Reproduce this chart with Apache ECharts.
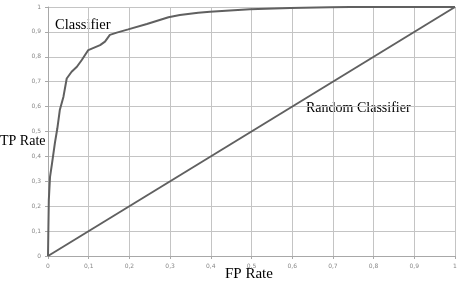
<!DOCTYPE html>
<html>
<head>
<meta charset="utf-8">
<script src="https://cdn.jsdelivr.net/npm/echarts@6/dist/echarts.min.js"></script>
<style>html,body{margin:0;padding:0;background:#fff;}#c{width:458px;height:283px;}</style>
</head>
<body>
<div id="c"></div>
<script>
var rocFpr = [0, 0.001, 0.002, 0.005, 0.010, 0.017, 0.023, 0.029, 0.038, 0.046, 0.058, 0.071, 0.083, 0.087, 0.099, 0.128, 0.140, 0.152, 0.169, 0.197, 0.243, 0.296, 0.324, 0.369, 0.398, 0.496, 0.595, 0.693, 0.742, 1];
var rocTpr = [0, 0.118, 0.225, 0.318, 0.373, 0.454, 0.513, 0.586, 0.640, 0.713, 0.740, 0.760, 0.787, 0.794, 0.827, 0.847, 0.861, 0.888, 0.897, 0.910, 0.932, 0.959, 0.968, 0.977, 0.981, 0.991, 0.996, 0.999, 1, 1];
var randFpr = [0, 1];
var randTpr = [0, 1];
var tickValues = [0, 0.1, 0.2, 0.3, 0.4, 0.5, 0.6, 0.7, 0.8, 0.9, 1];
var tickLabels = ['0', '0,1', '0,2', '0,3', '0,4', '0,5', '0,6', '0,7', '0,8', '0,9', '1'];
var xAxisName = 'FP Rate';
var yAxisName = 'TP Rate';

function fmt(v) {
  for (var i = 0; i < tickValues.length; i++) {
    if (Math.abs(tickValues[i] - v) < 1e-6) return tickLabels[i];
  }
  return '';
}
function pairs(a, b) { return a.map(function (x, i) { return [x, b[i]]; }); }

var axisCommon = {
  type: 'value', min: 0, max: 1, interval: 0.1,
  axisLine: { show: true, lineStyle: { color: '#a8a8a8', width: 1 } },
  axisTick: { show: true, length: 3, lineStyle: { color: '#a8a8a8' } },
  splitLine: { show: true, lineStyle: { color: '#c4c4c4', width: 1 } },
  axisLabel: { formatter: fmt, fontSize: 6, color: '#888', fontFamily: 'DejaVu Sans', margin: 7 }
};

var chart = echarts.init(document.getElementById('c'), null, { renderer: 'canvas' });
chart.setOption({
  animation: false,
  backgroundColor: '#fff',
  grid: { left: 48, right: 3, top: 7, bottom: 27, containLabel: false, outerBoundsMode: 'none' },
  xAxis: Object.assign({}, axisCommon),
  yAxis: Object.assign({}, axisCommon),
  series: [
    {
      type: 'line', data: pairs(rocFpr, rocTpr), showSymbol: false, symbol: 'none',
      lineStyle: { color: '#606060', width: 2 }
    },
    {
      type: 'line', data: pairs(randFpr, randTpr), showSymbol: false, symbol: 'none',
      lineStyle: { color: '#606060', width: 2 }
    }
  ],
  graphic: [
    { type: 'text', left: 55, top: 18, style: { text: 'Classifier', fontFamily: 'Liberation Serif', fontSize: 14.5, fill: '#000' } },
    { type: 'text', left: 306, top: 101, style: { text: 'Random Classifier', fontFamily: 'Liberation Serif', fontSize: 14, fill: '#000' } },
    { type: 'text', left: 0, top: 134, style: { text: yAxisName, fontFamily: 'Liberation Serif', fontSize: 14, fill: '#000' } },
    { type: 'text', left: 225, top: 267, style: { text: xAxisName, fontFamily: 'Liberation Serif', fontSize: 15, fill: '#000' } }
  ]
});
</script>
</body>
</html>
